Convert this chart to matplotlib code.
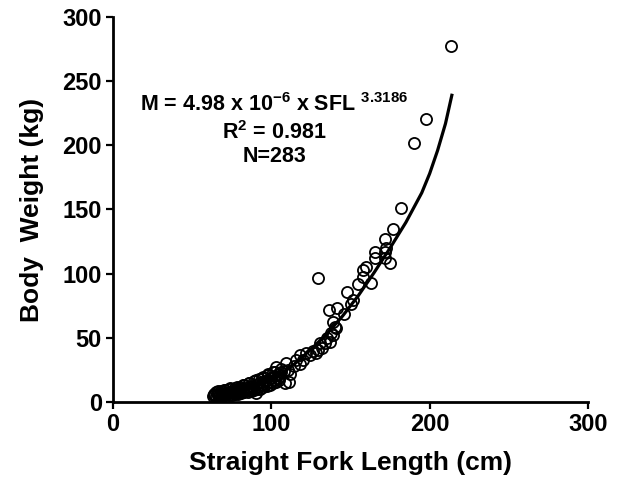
import matplotlib.pyplot as plt

# Dados (SFL em cm, massa em kg)
sfl = [63, 65, 67, 69, 71, 73, 75, 77, 79, 81, 83, 85, 87, 89, 91, 93, 95, 97, 99, 101, 103, 105,
       64, 66, 68, 70, 72, 74, 76, 78, 80, 82, 84, 86, 88, 90, 92, 94, 96, 98, 100, 102, 104, 106, 108,
       65, 68, 71, 74, 77, 80, 83, 86, 89, 92, 95, 98, 101,
       64, 66.5, 69, 71.5, 74, 76.5, 79, 81.5, 84, 86.5, 89, 91.5, 94, 96.5, 99, 101.5, 104,
       66, 70, 74, 78, 82, 86, 90, 94, 98, 102, 106,
       90.5, 108.5, 111, 103, 109.5, 110.5, 112, 114, 115.8, 117.9, 118, 120, 122, 124.2, 126, 128.4, 129.5,
       130.5, 132, 134, 136.9, 137.9, 140, 138.9, 141.1, 136.5, 141.5, 146, 148, 151.6, 154.7, 157.9,
       158, 163.2, 160, 165.3, 171.6, 165.3, 174.7, 172.7, 171.6, 171.6, 176.6, 182.1, 129.5,
       190, 197.9, 213.3, 135, 139, 150.5]
peso = [4.5, 4.5, 4.8, 5, 5.2, 5.5, 5.8, 6.2, 6.6, 7, 7.5, 8, 8.5, 9, 9.8, 10.5, 11.5, 12.5, 13.5, 14.5, 15.5, 17,
        6, 6.3, 6.6, 7, 7.4, 8, 8.5, 9, 9.8, 10.5, 11.2, 12, 12.8, 13.6, 14.5, 15.5, 16.5, 17.5, 18.8, 20, 21.5, 23, 24.5,
        7.5, 8.2, 9, 10, 11, 12, 13.5, 15, 16.5, 18, 19.5, 21.5, 23.5,
        5.2, 5.5, 5.8, 6.2, 6.7, 7.2, 7.8, 8.5, 9.3, 10, 10.8, 11.8, 13, 14, 15.5, 17, 18.5,
        8.5, 9.5, 10.8, 12, 13.5, 15, 17, 19, 21, 23.5, 26,
        6.8, 14.6, 15.5, 27.5, 30.2, 25, 22, 28, 32.7, 36.6, 30, 32.7, 38, 36.6, 40, 38, 40.5,
        45.7, 42, 46, 47, 53.5, 58.7, 62.6, 57.4, 71.5, 73, 68.5, 85.5, 79.5, 92, 102.9,
        97.7, 92.5, 105.5, 112, 117, 117, 108.2, 119.8, 112, 127, 135, 151, 97,
        201.7, 220.5, 277.5, 50, 52, 76]

# Curva ajustada
curva_x = [64, 75, 85, 95, 105, 115, 125, 135, 145, 155, 165, 175, 185, 195, 200, 205, 210, 214]
curva_y = [4, 7, 10.5, 15, 21, 30, 41, 53, 67, 83, 101, 120, 140, 163, 178, 196, 217, 239]

plt.rcParams['font.family'] = ['Liberation Sans', 'DejaVu Sans']
plt.rcParams['font.weight'] = 'bold'
plt.rcParams['mathtext.fontset'] = 'custom'
plt.rcParams['mathtext.rm'] = 'Liberation Sans:bold'
plt.rcParams['mathtext.bf'] = 'Liberation Sans:bold'
plt.rcParams['mathtext.it'] = 'Liberation Sans:bold'
plt.rcParams['mathtext.default'] = 'bf'

fig = plt.figure(figsize=(6.32, 4.79), dpi=100)
ax = fig.add_axes([113 / 632, 77 / 479, 475 / 632, 385 / 479])

ax.plot(sfl, peso, 'o', mfc='none', mec='black', ms=8, mew=1.3, zorder=2)
ax.plot(curva_x, curva_y, color='black', lw=2.3, zorder=3)

ax.set_xlim(0, 300)
ax.set_ylim(0, 300)
ax.set_xticks([0, 100, 200, 300])
ax.set_yticks([0, 50, 100, 150, 200, 250, 300])
ax.tick_params(direction='out', length=5, width=1.6, labelsize=17, pad=3)
for lab in ax.get_xticklabels() + ax.get_yticklabels():
    lab.set_fontweight('bold')
for s in ['top', 'right']:
    ax.spines[s].set_visible(False)
for s in ['left', 'bottom']:
    ax.spines[s].set_linewidth(2)
ax.patch.set_visible(False)

ax.set_xlabel('Straight Fork Length (cm)', fontsize=19, fontweight='bold', labelpad=11)
ax.set_ylabel('Body  Weight (kg)', fontsize=19, fontweight='bold', labelpad=13)

# Equação do ajuste
ax.text(102, 232, r'M = 4.98 x 10$^{-6}$ x SFL $^{3.3186}$', fontsize=15.5, fontweight='bold', ha='center', va='center')
ax.text(102, 210, r'R$^{2}$ = 0.981', fontsize=15.5, fontweight='bold', ha='center', va='center')
ax.text(102, 191, 'N=283', fontsize=15.5, fontweight='bold', ha='center', va='center')

fig.savefig('out.png', dpi=100)
